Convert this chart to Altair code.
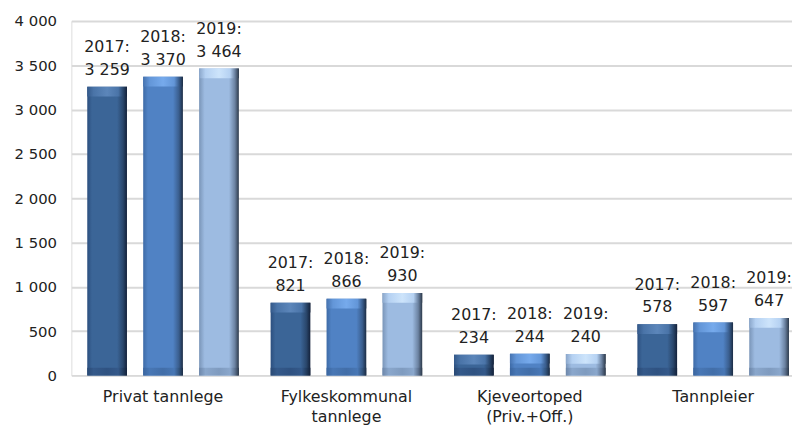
import altair as alt
import pandas as pd

categories = ["Privat tannlege", "Fylkeskommunal tannlege", "Kjeveortoped (Priv.+Off.)", "Tannpleier"]
years = ["2017", "2018", "2019"]
v2017 = [3259, 821, 234, 578]
v2018 = [3370, 866, 244, 597]
v2019 = [3464, 930, 240, 647]
y_ticks = [0, 500, 1000, 1500, 2000, 2500, 3000, 3500, 4000]

series = {"2017": v2017, "2018": v2018, "2019": v2019}
rows = []
for yr in years:
    for cat, v in zip(categories, series[yr]):
        rows.append({
            "category": cat,
            "year": yr,
            "value": v,
            "label": f"{yr}:\n" + f"{v:,}".replace(",", " "),
        })
df = pd.DataFrame(rows)

FONT = "DejaVu Sans"

gradients = {
    "2017": [("#2c4f7f", 0.0), ("#3b6597", 0.12), ("#3b6597", 0.75), ("#2a476c", 0.9), ("#13213a", 1.0)],
    "2018": [("#3e6ba7", 0.0), ("#5082c4", 0.12), ("#5082c4", 0.75), ("#3a5e8e", 0.9), ("#1b2c44", 1.0)],
    "2019": [("#7a95b8", 0.0), ("#9dbbe1", 0.14), ("#9dbbe1", 0.75), ("#6c83a2", 0.9), ("#2c394a", 1.0)],
}
top_gradients = {
    "2017": [("#34598a", 0.0), ("#4a74a8", 0.16), ("#5c86ba", 0.5), ("#4a74a8", 0.78), ("#2a476c", 0.9), ("#13213a", 1.0)],
    "2018": [("#4673b0", 0.0), ("#6396d8", 0.16), ("#76aaec", 0.5), ("#6396d8", 0.78), ("#3a5e8e", 0.9), ("#1b2c44", 1.0)],
    "2019": [("#8aa6ca", 0.0), ("#b5d1f2", 0.16), ("#cde4fb", 0.5), ("#b5d1f2", 0.78), ("#6c83a2", 0.9), ("#2c394a", 1.0)],
}
bottom_gradients = {
    "2017": [("#2a4a75", 0.0), ("#34598a", 0.16), ("#2f5281", 0.5), ("#34598a", 0.78), ("#233d5f", 0.9), ("#13213a", 1.0)],
    "2018": [("#3a659f", 0.0), ("#4877b5", 0.16), ("#426ea8", 0.5), ("#4877b5", 0.78), ("#33557f", 0.9), ("#1b2c44", 1.0)],
    "2019": [("#6d87aa", 0.0), ("#8aa7cc", 0.16), ("#7f9bbf", 0.5), ("#8aa7cc", 0.78), ("#5e7391", 0.9), ("#2c394a", 1.0)],
}

label_expr = (
    "datum.value == 'Fylkeskommunal tannlege' ? ['Fylkeskommunal', 'tannlege'] : "
    "datum.value == 'Kjeveortoped (Priv.+Off.)' ? ['Kjeveortoped', '(Priv.+Off.)'] : datum.value"
)

x_enc = alt.X(
    "category:N",
    sort=categories,
    scale=alt.Scale(range=[0, 741], paddingInner=0.085, paddingOuter=0.0425),
    axis=alt.Axis(
        title=None, ticks=False, domain=False, labelAngle=0,
        labelExpr=label_expr, labelFont=FONT, labelFontSize=16,
        labelColor="#222222", labelPadding=13, labelLineHeight=21,
    ),
)
xoff_enc = alt.XOffset(
    "year:N", sort=years,
    scale=alt.Scale(domain=years, paddingInner=0.29, paddingOuter=0.145),
)
y_scale = alt.Scale(domain=[0, 4000], nice=False)
y_enc = alt.Y(
    "value:Q",
    scale=y_scale,
    axis=alt.Axis(
        title=None, values=y_ticks, ticks=False, domain=False,
        labelExpr="replace(format(datum.value, ','), ',', ' ')",
        labelFont=FONT, labelFontSize=15, labelColor="#222222", labelPadding=15,
        grid=True, gridColor="#d9d9d9", gridWidth=2,
    ),
)


def hgrad(stops):
    return alt.Gradient(
        gradient="linear", x1=0, x2=1, y1=0, y2=0,
        stops=[alt.GradientStop(color=c, offset=o) for c, o in stops],
    )


base = alt.Chart(df)

layers = []
for yr in years:
    sub = base.transform_filter(alt.datum.year == yr)
    layers.append(
        sub.mark_bar(color=hgrad(gradients[yr])).encode(x=x_enc, xOffset=xoff_enc, y=y_enc)
    )
    # top bevel highlight
    layers.append(
        sub.transform_calculate(cap=alt.datum.value - 110)
        .mark_bar(color=hgrad(top_gradients[yr]))
        .encode(x=x_enc, xOffset=xoff_enc, y=y_enc, y2=alt.Y2("cap:Q"))
    )
    # bottom bevel shade
    layers.append(
        sub.transform_calculate(bot=alt.datum.value * 0 + 85)
        .mark_bar(color=hgrad(bottom_gradients[yr]))
        .encode(x=x_enc, xOffset=xoff_enc,
                y=alt.Y("bot:Q", scale=y_scale), y2=alt.datum(0))
    )

text = base.mark_text(
    lineBreak="\n", align="center", baseline="bottom", dy=-32,
    font=FONT, fontSize=16, lineHeight=23, color="#222222",
).encode(x=x_enc, xOffset=xoff_enc, y=y_enc, text="label:N")

chart = alt.layer(*layers, text).properties(
    width=728, height=358,
    autosize=alt.AutoSizeParams(type="none"),
    padding={"left": 64, "top": 11, "right": 0, "bottom": 48},
).configure_view(stroke=None).configure(background="white")

chart.save("out.html", embed_options={"renderer": "svg", "actions": False})
